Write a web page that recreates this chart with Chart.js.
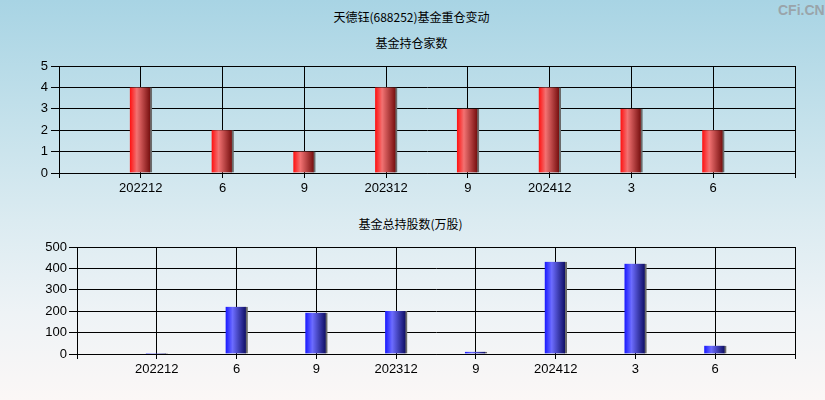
<!DOCTYPE html>
<html><head><meta charset="utf-8">
<script src="https://cdn.jsdelivr.net/npm/chart.js@4/dist/chart.umd.min.js"></script>
<style>
html,body{margin:0;padding:0;}
#wrap{position:relative;width:825px;height:400px;overflow:hidden;
background:linear-gradient(to bottom,#a8d4e4 0%,#c4e1eb 30%,#dbebf1 55%,#eef3f6 78%,#fbf7f6 100%);}
.t{position:absolute;left:0;width:825px;text-align:center;font-family:"Noto Sans CJK SC",sans-serif;font-size:12px;color:#000;line-height:14px;}
#logo{position:absolute;left:778px;top:2px;font-family:"Liberation Sans",Arial,sans-serif;font-weight:bold;font-size:14px;color:#9aa4aa;}
canvas{position:absolute;left:0;}
</style></head>
<body><div id="wrap">
<div class="t" style="top:10px;left:-1px">天德钰(688252)基金重仓变动</div>
<div class="t" style="top:36px;left:-1px">基金持仓家数</div>
<div class="t" style="top:217px;left:-2px">基金总持股数(万股)</div>
<div id="logo">CFi.CN</div>
<canvas id="c1" style="top:0px" width="825" height="200"></canvas>
<canvas id="c2" style="top:200px" width="825" height="200"></canvas>
</div>
<script>
const categories = ['202212','6','9','202312','9','202412','3','6'];
const fundCounts = [4,2,1,4,3,4,3,2];
const fundShares = [5,221,193,201,10,431,422,39];
const countTicks = [0,1,2,3,4,5];
const shareTicks = [0,100,200,300,400,500];

const FONT = {family:'"Liberation Sans", Arial, sans-serif', size:13};

function grad(stops){
  return function(ctx){
    const chart = ctx.chart;
    const xs = chart.scales && chart.scales.x;
    if(!xs || ctx.type !== 'data' || !ctx.parsed) return stops[0][1];
    const px = xs.getPixelForValue(ctx.parsed.x);
    if(!isFinite(px)) return stops[0][1];
    const g = chart.ctx.createLinearGradient(px-11,0,px+9,0);
    stops.forEach(s=>g.addColorStop(s[0],s[1]));
    return g;
  };
}
const redStops = [[0,'#ff0f0f'],[0.35,'#f27272'],[1,'#7a1212']];
const blueStops = [[0,'#1818ff'],[0.35,'#6c6cff'],[1,'#12126a']];

function make(id, values, yTicks, stops, yWidth, pad, xHeight, yPad){
  const pts = values.map((v,i)=>({x:i+1,y:v}));
  return new Chart(document.getElementById(id),{
    type:'bar',
    data:{datasets:[{data:pts,backgroundColor:grad(stops),borderColor:'#6a6a6a',
      borderWidth:{left:0,top:0,bottom:0,right:2},borderSkipped:false,barThickness:22}]},
    options:{
      responsive:false,animation:false,
      layout:{padding:{left:0,right:30,top:pad,bottom:0}},
      plugins:{legend:{display:false},tooltip:{enabled:false},title:{display:false}},
      scales:{
        x:{type:'linear',min:0,max:categories.length+1,offset:false,
          afterFit:s=>{s.height=xHeight;},
          ticks:{stepSize:1,autoSkip:false,maxRotation:0,color:'#000',font:FONT,padding:3,
            callback:v=>(v>=1&&v<=categories.length)?categories[v-1]:''},
          grid:{offset:false,color:'#000',lineWidth:1,tickLength:5,tickColor:'#000'},
          border:{display:true,color:'#000',width:1}},
        y:{min:yTicks[0],max:yTicks[yTicks.length-1],
          afterFit:s=>{s.width=yWidth;},
          afterBuildTicks:s=>{s.ticks=yTicks.map(v=>({value:v}));},
          ticks:{color:'#000',font:FONT,padding:yPad},
          grid:{color:'#000',lineWidth:1,tickLength:8,tickColor:'#000'},
          border:{display:true,color:'#000',width:1}}
      }
    },
    plugins:[{id:'frame',afterDraw(c){const a=c.chartArea,x=c.ctx;x.save();x.strokeStyle='#000';x.lineWidth=1;
      x.beginPath();x.moveTo(a.left,Math.round(a.top)+0.5);x.lineTo(a.right,Math.round(a.top)+0.5);
      x.moveTo(Math.round(a.right)+0.5,a.top);x.lineTo(Math.round(a.right)+0.5,a.bottom+5);x.stroke();x.restore();}}]
  });
}
make('c1',fundCounts,countTicks,redStops,59,66,27,3);
make('c2',fundShares,shareTicks,blueStops,77,47,46,2);
</script>
</body></html>
